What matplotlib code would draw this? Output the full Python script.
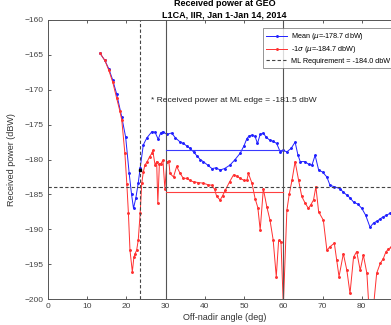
import matplotlib
matplotlib.use('Agg')
import matplotlib.pyplot as plt

plt.rcParams['font.family'] = ['Liberation Sans', 'DejaVu Sans']

# off-nadir angle (deg) and received power (dBW)
ang_mean = [13.3, 14.5, 15.5, 16.5, 17.5, 18.8, 19.8, 20.7, 21.3, 21.8, 22.4, 23.0, 23.5, 24.3, 25.2,
            26.5, 27.3, 28.1, 28.7, 29.3, 30.3, 31.5, 32.5, 33.7, 34.5, 35.5, 36.2, 37.1, 38.0, 38.8,
            39.6, 40.7, 41.8, 42.8, 43.9, 45.0, 46.4, 47.7, 49.0, 50.0, 50.7, 51.3, 52.0, 52.8, 53.4,
            54.1, 54.9, 55.6, 56.5, 57.4, 58.3, 59.2, 60.0, 60.9, 62.0, 63.0, 63.7, 64.3, 65.5, 66.5,
            67.3, 68.1, 69.0, 70.0, 71.1, 71.9, 73.0, 74.5, 75.3, 76.2, 77.0, 77.9, 79.0, 80.0, 81.0,
            82.1, 83.0, 84.0, 84.7, 85.5, 86.3, 87.2, 88.0, 89.0, 90.0]
mean_pw = [-164.8, -165.8, -167.0, -168.6, -170.6, -173.9, -176.8, -182.0, -185.0, -187.0, -185.5, -183.4, -181.2, -177.9, -176.9,
           -176.0, -176.1, -177.1, -176.2, -176.0, -176.4, -176.2, -176.9, -177.5, -177.7, -178.1, -178.4, -178.9, -179.5, -180.0,
           -180.3, -180.8, -181.3, -181.2, -181.5, -181.3, -180.8, -180.0, -179.1, -178.0, -177.0, -176.6, -176.5, -176.7, -177.7,
           -176.4, -176.2, -176.8, -177.2, -177.4, -177.7, -178.9, -178.7, -178.9, -178.4, -177.5, -179.3, -180.3, -180.3, -180.7,
           -180.8, -179.4, -181.5, -181.8, -182.5, -183.7, -183.9, -184.2, -184.7, -185.1, -185.5, -186.1, -186.4, -187.0, -188.0,
           -189.7, -189.1, -188.8, -188.5, -188.2, -188.0, -187.7, -187.7, -187.5, -187.4]

ang_sig = [13.3, 14.5, 15.5, 16.5, 17.5, 18.3, 18.8, 19.6, 20.1, 20.5, 20.9, 21.5, 21.9, 22.2, 22.6,
           23.0, 23.5, 23.9, 24.3, 24.7, 25.3, 25.9, 26.5, 26.7, 27.3, 27.7, 28.0, 28.4, 28.8, 29.3,
           29.8, 30.3, 30.8, 31.1, 32.0, 32.8, 33.7, 34.5, 35.4, 36.2, 37.1, 38.3, 39.6, 40.7, 41.8,
           42.5, 43.0, 43.9, 44.5, 45.2, 46.3, 47.3, 48.2, 49.0, 50.0, 50.7, 51.1, 52.0, 52.8, 53.5,
           54.1, 54.9, 55.8, 56.6, 57.4, 58.2, 58.8, 59.4, 60.0, 60.9, 61.5, 62.2, 63.0, 63.9, 64.7,
           65.6, 66.4, 67.0, 67.7, 68.3, 69.0, 70.2, 71.1, 71.9, 73.0, 73.6, 74.2, 75.3, 76.2, 77.0,
           77.9, 78.7, 79.6, 80.4, 81.3, 81.8, 83.0, 83.8, 84.7, 85.5, 86.1, 86.8, 87.5, 88.5, 90.0]
sig_pw = [-164.8, -165.8, -167.2, -168.9, -171.2, -173.0, -174.3, -179.1, -183.5, -187.7, -193.0, -196.1, -194.0, -193.5, -193.0,
          -191.6, -187.7, -183.4, -181.8, -180.8, -180.3, -179.6, -179.1, -178.7, -180.8, -180.3, -186.3, -180.6, -180.6, -180.1,
          -184.2, -180.4, -180.2, -182.0, -182.5, -181.0, -182.0, -182.7, -182.7, -183.0, -183.2, -183.3, -183.4, -183.6, -183.7,
          -184.3, -185.3, -185.8, -185.2, -184.4, -183.2, -182.2, -182.4, -182.7, -183.0, -183.0, -182.0, -183.4, -185.6, -186.9,
          -190.1, -184.2, -186.8, -188.7, -191.5, -196.8, -191.6, -191.8, -201.0, -187.3, -185.0, -183.0, -180.3, -183.0, -185.3,
          -186.3, -187.0, -186.5, -185.8, -183.9, -187.5, -188.7, -193.0, -192.5, -192.0, -194.4, -196.8, -193.5, -195.9, -199.2,
          -194.0, -193.2, -195.9, -193.7, -196.3, -201.0, -201.0, -196.3, -194.9, -194.2, -193.3, -192.8, -192.6, -192.5, -192.3]

mean_avg = -178.7
sig_avg = -184.7
ml_req = -184.0
ml_edge = 23.5
ml_edge_pw = -181.5
band = [30, 60]

fig = plt.figure(figsize=(3.91, 3.25), dpi=100)
ax = fig.add_axes([48 / 391, 26 / 325, 353 / 391, 279 / 325])

ax.plot(ang_mean, mean_pw, '.-', c='#2020ff', lw=0.7, ms=2.2, label=r'Mean ($\mu$=-178.7 dbW)')
ax.plot(ang_sig, sig_pw, '.-', c='#ff3030', lw=0.7, ms=2.2, label=r'-1$\sigma$ ($\mu$=-184.7 dbW)')
ax.axhline(y=ml_req, c='#444444', ls='--', lw=0.8, dashes=(3, 2), label='ML Requirement = -184.0 dbW')
ax.axvline(x=ml_edge, c='#444444', ls='--', lw=0.8, dashes=(3, 2))
for b in band:
    ax.axvline(x=b, c='#555555', lw=0.8)
ax.plot(band, [mean_avg, mean_avg], c='#3a3aff', lw=0.8)
ax.plot(band, [sig_avg, sig_avg], c='#ff4040', lw=0.8)
ax.plot([ml_edge], [ml_edge_pw], 's', c='k', ms=2)
ax.text(26.3, -171.5, '* Received power at ML edge = -181.5 dbW', fontsize=6.1, va='center', color='#222222')

ax.set_xlim(0, 90)
ax.set_ylim(-200, -160)
ax.set_xticks(range(0, 81, 10))
ax.set_yticks(range(-200, -159, 5))
ax.tick_params(direction='in', labelsize=6, colors='#444444', length=2.5, width=0.6,
               top=True, right=True, pad=3)
for s in ax.spines.values():
    s.set_color('#555555')
    s.set_linewidth(0.7)
ax.set_xlabel('Off-nadir angle (deg)', fontsize=6.5, color='#333333', labelpad=2)
ax.set_ylabel('Received power (dBW)', fontsize=6.5, color='#333333', labelpad=6)
ax.set_title('Received power at GEO\nL1CA, IIR, Jan 1-Jan 14, 2014', fontsize=6.5, fontweight='bold',
             linespacing=1.3, pad=2)

leg = ax.legend(loc='upper left', fontsize=5.2, frameon=True, fancybox=False, borderpad=0.45,
                handlelength=2.9, handletextpad=0.5, labelspacing=0.3, borderaxespad=0,
                bbox_to_anchor=(263 / 391, 1 - 28 / 325), bbox_transform=fig.transFigure)
leg.get_frame().set_edgecolor('#666666')
leg.get_frame().set_linewidth(0.6)

fig.savefig('out.png', dpi=100)
